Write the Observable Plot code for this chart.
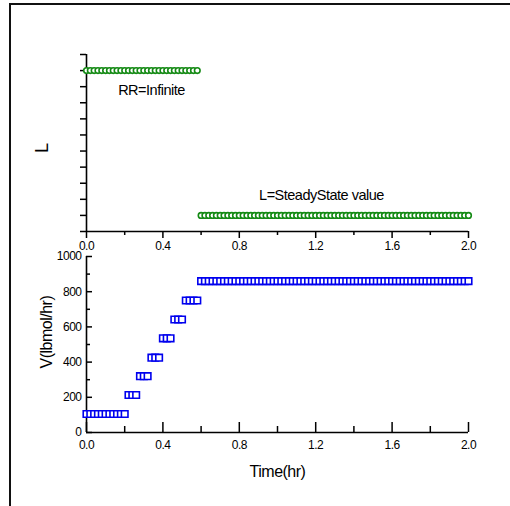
<!DOCTYPE html>
<html><head><meta charset="utf-8">
<script src="https://cdn.jsdelivr.net/npm/d3@7"></script>
<script src="https://cdn.jsdelivr.net/npm/@observablehq/plot@0.6"></script>
<style>
body{margin:0;background:#fff;}
#wrap{position:relative;width:510px;height:506px;overflow:hidden;background:#fff;}
#wrap svg{position:absolute;left:0;top:0;}
#border{position:absolute;left:9px;top:3px;width:600px;height:600px;border-top:2px solid #111;border-left:2px solid #111;}
</style></head><body><div id="wrap"><div id="border"></div></div>
<script>
// ---- data ----
const sampleInterval = 0.02;          // hr between samples
const timeEnd = 2.0;                  // hr
const vStepStart = [0, 0.22, 0.28, 0.34, 0.40, 0.46, 0.52, 0.60];
const vLevels    = [105, 213, 320, 425, 535, 642, 750, 860];
const lStepStart = [0, 0.60];
const lLevels    = [10, 1];
const lNotes = [
  {label: "RR=Infinite", t: 0.34, level: 10, side: 1},
  {label: "L=SteadyState value", t: 1.23, level: 1, side: -1}
];
const xTicksMajor = [0, 0.4, 0.8, 1.2, 1.6, 2.0];
const xTickLabels = ["0.0", "0.4", "0.8", "1.2", "1.6", "2.0"];
const xTicksMinor = [0.2, 0.6, 1.0, 1.4, 1.8];
const vTicksMajor = [0, 200, 400, 600, 800, 1000];
const vTicksMinor = [100, 300, 500, 700, 900];
const lTicks = [0, 1, 2, 3, 4, 5, 6, 7, 8, 9, 10, 11];
const xTitle = "Time(hr)", vTitle = "V(lbmol/hr)", lTitle = "L";

// sample grid and step-wise values
const times = d3.range(0, Math.round(timeEnd / sampleInterval) + 1).map(i => +(i * sampleInterval).toFixed(2));
const levelAt = (starts, levels, t) => { let k = 0; starts.forEach((s, i) => { if (t >= s - 1e-9) k = i; }); return levels[k]; };
const lData = times.map(t => ({t, L: levelAt(lStepStart, lLevels, t)}));
const vData = times.map(t => ({t, V: levelAt(vStepStart, vLevels, t)}));

const font = "'Liberation Sans', Arial, sans-serif";
const green = "#148a14", blue = "#0000ee";
const fmtX = d => xTickLabels[xTicksMajor.indexOf(d)];
const common = {
  width: 510, height: 506, marginLeft: 86, marginRight: 42,
  style: {background: "transparent", fontFamily: font, fontSize: "12px", color: "#000", letterSpacing: "-0.5px", overflow: "visible"},
  x: {domain: [0, 2], label: null}
};

const topPlot = Plot.plot({
  ...common,
  marginTop: 54, marginBottom: 506 - 231,
  y: {domain: [0, 11], label: null},
  marks: [
    Plot.axisX(xTicksMajor, {tickSize: 7, tickPadding: 3, tickFormat: fmtX, strokeWidth: 1.5}),
    Plot.axisX(xTicksMinor, {tickSize: 4, tickFormat: () => "", strokeWidth: 1.5}),
    Plot.axisY(lTicks, {tickSize: 6, tickFormat: () => "", strokeWidth: 1.5}),
    Plot.ruleY([0], {stroke: "#000", strokeWidth: 1.6}),
    Plot.ruleX([0], {stroke: "#000", strokeWidth: 1.6}),
    Plot.dot(lData, {x: "t", y: "L", r: 2.8, stroke: green, fill: "white", strokeWidth: 1.6}),
    Plot.text(lNotes.filter(d => d.side > 0), {x: "t", y: "level", text: "label", dy: 20, fontSize: 14.5, fill: "#000"}),
    Plot.text(lNotes.filter(d => d.side < 0), {x: "t", y: "level", text: "label", dy: -20, fontSize: 14.5, fill: "#000"}),
    Plot.text([lTitle], {frameAnchor: "left", dx: -44, dy: 10, rotate: -90, fontSize: 18, fill: "#000"})
  ]
});

const botPlot = Plot.plot({
  ...common,
  marginTop: 256, marginBottom: 506 - 432,
  y: {domain: [0, 1000], label: null},
  marks: [
    Plot.axisX(xTicksMajor, {tickSize: -10, tickFormat: () => "", strokeWidth: 1.5}),
    Plot.axisX(xTicksMinor, {tickSize: -6, tickFormat: () => "", strokeWidth: 1.5}),
    Plot.axisX(xTicksMajor, {tickSize: 0, tickPadding: 8, tickFormat: fmtX}),
    Plot.axisY(vTicksMajor, {tickSize: -6, tickFormat: () => "", strokeWidth: 1.5}),
    Plot.axisY(vTicksMinor, {tickSize: -4, tickFormat: () => "", strokeWidth: 1.5}),
    Plot.axisY(vTicksMajor, {tickSize: 0, tickPadding: 5, tickFormat: d => String(d)}),
    Plot.ruleY([0], {stroke: "#000", strokeWidth: 1.6}),
    Plot.ruleX([0], {stroke: "#000", strokeWidth: 1.6}),
    Plot.dot(vData, {x: "t", y: "V", symbol: "square", r: 3.7, stroke: blue, fill: "white", strokeWidth: 1.6}),
    Plot.text([vTitle], {frameAnchor: "left", dx: -40, dy: 24, rotate: -90, fontSize: 16, fill: "#000"}),
    Plot.text([xTitle], {frameAnchor: "bottom", dy: 44, fontSize: 16, fill: "#000"})
  ]
});

document.getElementById("wrap").append(topPlot, botPlot);
</script>
</body></html>
